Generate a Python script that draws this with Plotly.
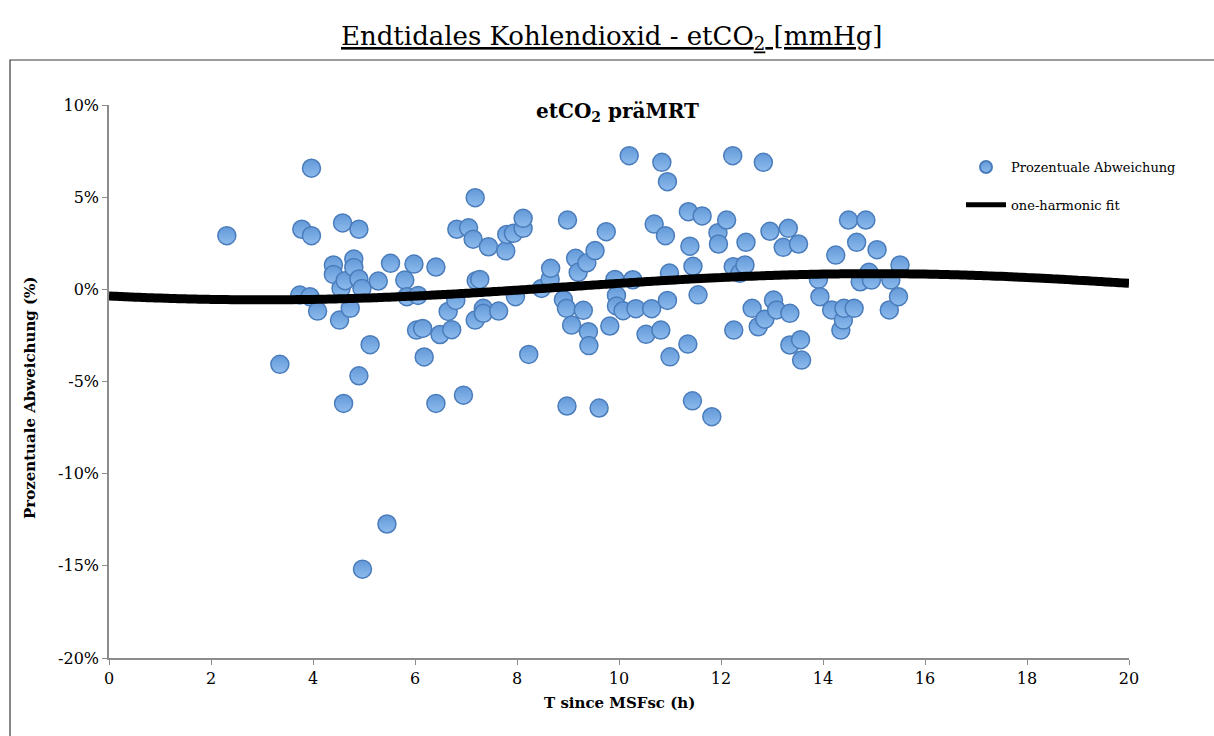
import numpy as np
import plotly.graph_objects as go

# Time since MSFsc (h) and percentage deviation of etCO2 (%)
t_hours = [
    2.31, 3.35, 3.74, 3.78, 3.94, 3.97, 3.97, 4.09, 4.40, 4.40,
    4.52, 4.55, 4.58, 4.60, 4.63, 4.73, 4.80, 4.80, 4.90, 4.90,
    4.90, 4.96, 4.97, 5.12, 5.28, 5.45, 5.52, 5.80, 5.84, 5.98,
    6.06, 6.03, 6.15, 6.18, 6.41, 6.41, 6.49, 6.65, 6.72, 6.80,
    6.82, 6.95, 7.05, 7.14, 7.18, 7.18, 7.20, 7.27, 7.34, 7.34,
    7.44, 7.64, 7.78, 7.80, 7.93, 7.97, 8.12, 8.12, 8.23, 8.48,
    8.65, 8.66, 8.91, 8.97, 8.98, 8.99, 9.07, 9.15, 9.20, 9.30,
    9.37, 9.40, 9.41, 9.53, 9.61, 9.75, 9.82, 9.92, 9.95, 9.95,
    10.08, 10.20, 10.27, 10.33, 10.53, 10.64, 10.69, 10.82, 10.84, 10.91,
    10.95, 10.95, 10.99, 11.00, 11.36, 11.35, 11.39, 11.44, 11.45, 11.55,
    11.63, 11.82, 11.94, 11.95, 12.11, 12.23, 12.25, 12.24, 12.37, 12.47,
    12.49, 12.61, 12.73, 12.83, 12.86, 12.96, 13.03, 13.09, 13.22, 13.32,
    13.35, 13.35, 13.52, 13.56, 13.58, 13.91, 13.94, 14.17, 14.25, 14.35,
    14.40, 14.41, 14.50, 14.61, 14.66, 14.73, 14.84, 14.90, 14.95, 15.06,
    15.30, 15.33, 15.48, 15.51,
]
deviation_pct = [
    2.91, -4.07, -0.31, 3.26, -0.40, 2.91, 6.57, -1.18, 1.32, 0.81,
    -1.67, 0.05, 3.60, -6.19, 0.47, -1.03, 1.64, 1.19, 0.56, 3.26,
    -4.69, 0.05, -15.18, -3.00, 0.45, -12.73, 1.41, 0.50, -0.40, 1.37,
    -0.33, -2.21, -2.12, -3.67, 1.21, -6.19, -2.45, -1.20, -2.19, -0.60,
    3.26, -5.74, 3.34, 2.72, -1.67, 4.97, 0.47, 0.54, -1.03, -1.30,
    2.31, -1.18, 2.09, 2.98, 3.04, -0.40, 3.31, 3.85, -3.53, 0.05,
    0.55, 1.14, -0.56, -1.03, -6.33, 3.76, -1.94, 1.68, 0.92, -1.14,
    1.44, -2.30, -3.05, 2.10, -6.44, 3.13, -1.99, 0.54, -0.33, -0.90,
    -1.16, 7.25, 0.52, -1.05, -2.44, -1.05, 3.54, -2.21, 6.89, 2.91,
    5.84, -0.60, 0.88, -3.66, 4.21, -2.97, 2.34, -6.05, 1.25, -0.30,
    3.98, -6.91, 3.07, 2.46, 3.76, 7.25, -2.21, 1.23, 0.87, 1.32,
    2.55, -1.03, -2.03, 6.89, -1.62, 3.15, -0.58, -1.12, 2.28, 3.31,
    -1.30, -3.02, 2.46, -2.73, -3.84, 0.54, -0.40, -1.12, 1.86, -2.21,
    -1.67, -1.03, 3.76, -1.03, 2.55, 0.41, 3.76, 0.92, 0.50, 2.15,
    -1.12, 0.50, -0.40, 1.32,
]

# One-harmonic (cosinor) fit parameters, 24 h period
FIT_MESOR = 0.14       # %
FIT_AMPLITUDE = 0.71   # %
FIT_ACROPHASE = 15.0   # h
FIT_PERIOD = 24.0      # h
fit_t = np.linspace(0, 20, 201)
fit_y = FIT_MESOR + FIT_AMPLITUDE * np.cos(2 * np.pi * (fit_t - FIT_ACROPHASE) / FIT_PERIOD)

# Axis ticks
x_ticks = [0, 2, 4, 6, 8, 10, 12, 14, 16, 18, 20]
y_ticks = [-20, -15, -10, -5, 0, 5, 10]
y_tick_labels = ["-20%", "-15%", "-10%", "-5%", "0%", "5%", "10%"]

SERIF = "DejaVu Serif"
AXIS_GREY = "#8c8c8c"

W, H = 1214, 736
L, R, T, B = 109, 85, 105, 78


def px_x(px):
    return (px - L) / (W - L - R)


def px_y(py):
    return (H - B - py) / (H - T - B)


fig = go.Figure()

fig.add_trace(go.Scatter(
    x=t_hours, y=deviation_pct,
    mode="markers",
    name="Prozentuale Abweichung",
    legendgroup="a",
    marker=dict(
        size=18,
        color="#6399d8",
        gradient=dict(type="vertical", color="#8dbbed"),
        line=dict(color="#4a7cbb", width=1.5),
    ),
))

fig.add_trace(go.Scatter(
    x=fit_t, y=fit_y,
    mode="lines",
    name="one-harmonic fit",
    legendgroup="b",
    line=dict(color="black", width=9, shape="spline", simplify=False),
))

fig.update_layout(
    width=W, height=H,
    margin=dict(l=L, r=R, t=T, b=B),
    paper_bgcolor="white",
    plot_bgcolor="white",
    font=dict(family=SERIF, size=16, color="black"),
    showlegend=True,
    legend=dict(
        x=px_x(961), y=px_y(152),
        xanchor="left", yanchor="top",
        font=dict(family=SERIF, size=13, color="black"),
        bgcolor="rgba(0,0,0,0)",
        traceorder="grouped",
        tracegroupgap=18,
        itemsizing="constant",
        itemwidth=40,
    ),
    xaxis=dict(
        range=[0, 20],
        tickvals=x_ticks,
        ticks="outside", ticklen=5, tickcolor=AXIS_GREY, tickwidth=1,
        showline=True, linecolor=AXIS_GREY, linewidth=1.5,
        showgrid=False, zeroline=False,
        tickfont=dict(family=SERIF, size=16),
    ),
    yaxis=dict(
        range=[-20, 10],
        tickvals=y_ticks, ticktext=y_tick_labels,
        ticks="outside", ticklen=5, tickcolor=AXIS_GREY, tickwidth=1,
        showline=True, linecolor=AXIS_GREY, linewidth=1.5,
        showgrid=False, zeroline=False,
        tickfont=dict(family=SERIF, size=16),
    ),
    shapes=[
        # chart frame
        dict(type="rect", xref="paper", yref="paper",
             x0=px_x(10), x1=px_x(1230), y0=px_y(750), y1=px_y(60),
             line=dict(color="#3a3a3a", width=1.2), fillcolor="rgba(0,0,0,0)",
             layer="below"),
    ],
    annotations=[
        dict(text="<u>Endtidales Kohlendioxid - etCO<sub>2</sub> [mmHg]</u>",
             xref="paper", yref="paper", x=px_x(612), y=px_y(37),
             xanchor="center", yanchor="middle", showarrow=False,
             font=dict(family=SERIF, size=26, color="black")),
        dict(text="<b>etCO<sub>2</sub> präMRT</b>",
             xref="paper", yref="paper", x=px_x(617), y=px_y(112),
             xanchor="center", yanchor="middle", showarrow=False,
             font=dict(family=SERIF, size=20, color="black")),
        dict(text="<b>T since MSFsc (h)</b>",
             xref="paper", yref="paper", x=px_x(619), y=px_y(703),
             xanchor="center", yanchor="middle", showarrow=False,
             font=dict(family=SERIF, size=15, color="black")),
        dict(text="<b>Prozentuale Abweichung (%)</b>",
             xref="paper", yref="paper", x=px_x(30), y=px_y(398),
             xanchor="center", yanchor="middle", showarrow=False,
             textangle=-90,
             font=dict(family=SERIF, size=15, color="black")),
    ],
)

fig.write_html("out.html")
